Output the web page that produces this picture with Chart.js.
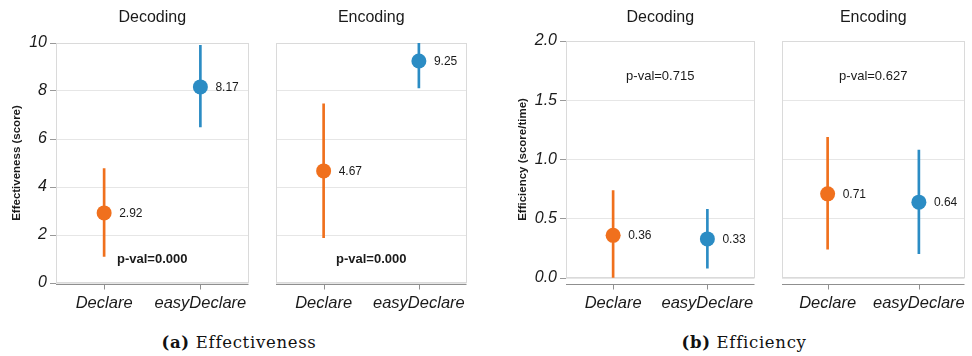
<!DOCTYPE html>
<html>
<head>
<meta charset="utf-8">
<script src="https://cdn.jsdelivr.net/npm/chart.js@4.4.1/dist/chart.umd.min.js"></script>
<style>
  html, body { margin: 0; padding: 0; background: #fff; }
  #wrap { position: relative; width: 972px; height: 356px; overflow: hidden; }
  .panel { position: absolute; top: 0; }
  .caption {
    position: absolute; top: 333px; transform: translateX(-50%);
    font-family: "DejaVu Serif", serif; font-size: 16.5px; letter-spacing: 0.7px;
    color: #111; white-space: nowrap;
  }
</style>
</head>
<body>
<div id="wrap">
  <div class="panel" style="left:0px"><canvas id="effDec" width="256" height="312"></canvas></div>
  <div class="panel" style="left:268px"><canvas id="effEnc" width="206" height="312"></canvas></div>
  <div class="panel" style="left:500px"><canvas id="efcDec" width="262" height="312"></canvas></div>
  <div class="panel" style="left:774px"><canvas id="efcEnc" width="198" height="312"></canvas></div>
  <div class="caption" style="left:239px"><b>(a)</b> Effectiveness</div>
  <div class="caption" style="left:744px"><b>(b)</b> Efficiency</div>
</div>
<script>
// Groups compared in every panel
const groups = ['Declare', 'easyDeclare'];
const groupColors = ['#f0701d', '#2b8cc4'];

// Effectiveness (score): means and confidence-interval ends
const effDecodingMean = [2.92, 8.17];
const effDecodingLow  = [1.11, 6.50];
const effDecodingHigh = [4.77, 9.90];
const effEncodingMean = [4.67, 9.25];
const effEncodingLow  = [1.89, 8.13];
const effEncodingHigh = [7.47, 10.0];

// Efficiency (score/time): means and confidence-interval ends
const efcDecodingMean = [0.36, 0.33];
const efcDecodingLow  = [0.00, 0.084];
const efcDecodingHigh = [0.737, 0.58];
const efcEncodingMean = [0.71, 0.64];
const efcEncodingLow  = [0.244, 0.205];
const efcEncodingHigh = [1.187, 1.08];

// Significance test results per panel
const pValues = ['0.000', '0.000', '0.715', '0.627'];

// Y-axis tick values
const effTicks = [0, 2, 4, 6, 8, 10];
const efcTicks = [0, 0.5, 1.0, 1.5, 2.0];

const SANS = '"Liberation Sans", Arial, sans-serif';

// Frame, bottom axis line with category ticks, panel title and p-value note
const panelDecor = {
  id: 'panelDecor',
  beforeDatasetsDraw(chart, args, o) {
    const { ctx, chartArea: a, scales } = chart;
    ctx.save();
    ctx.strokeStyle = '#dadada';
    ctx.lineWidth = 1;
    ctx.strokeRect(Math.round(a.left) + 0.5, Math.round(a.top) + 0.5,
                   Math.round(a.right - a.left) - 1, Math.round(a.bottom - a.top) - 1);
    const ay = Math.round(a.bottom + o.axisGap) + 0.5;
    ctx.strokeStyle = '#8f8f8f';
    ctx.beginPath();
    ctx.moveTo(a.left, ay);
    ctx.lineTo(a.right, ay);
    groups.forEach((g, i) => {
      const px = Math.round(scales.x.getPixelForValue(i)) + 0.5;
      ctx.moveTo(px, ay);
      ctx.lineTo(px, ay + 5);
    });
    ctx.stroke();
    ctx.restore();
  },
  afterDraw(chart, args, o) {
    const { ctx, chartArea: a, scales } = chart;
    const cx = (a.left + a.right) / 2;
    ctx.save();
    ctx.fillStyle = '#1a1a1a';
    ctx.textAlign = 'center';
    ctx.textBaseline = 'middle';
    ctx.font = '16px ' + SANS;
    ctx.fillText(o.title, cx, 17.5);
    ctx.font = (o.pBold ? 'bold ' : '') + '13px ' + SANS;
    ctx.fillText('p-val=' + o.pValue, cx, scales.y.getPixelForValue(o.pAt));
    ctx.restore();
  }
};

// Mean value printed to the right of each point
const meanLabels = {
  id: 'meanLabels',
  afterDatasetsDraw(chart) {
    const { ctx } = chart;
    const meta = chart.getDatasetMeta(0);
    const values = chart.data.datasets[0].data;
    ctx.save();
    ctx.fillStyle = '#1a1a1a';
    ctx.font = '12px ' + SANS;
    ctx.textAlign = 'left';
    ctx.textBaseline = 'middle';
    meta.data.forEach((pt, i) => ctx.fillText(values[i].toFixed(2), pt.x + 15, pt.y + 0.5));
    ctx.restore();
  }
};

function makePanel(id, p) {
  const ticks = p.ticks;
  return new Chart(document.getElementById(id), {
    type: 'bar',
    data: {
      labels: groups,
      datasets: [
        {
          type: 'line', data: p.mean, showLine: false,
          pointRadius: 7.5, pointHoverRadius: 7.5, pointBorderWidth: 0,
          pointBackgroundColor: groupColors, order: 0
        },
        {
          type: 'bar', data: p.low.map((l, i) => [l, p.high[i]]),
          backgroundColor: groupColors, barThickness: 2, order: 1
        }
      ]
    },
    options: {
      responsive: false,
      animation: false,
      events: [],
      layout: { padding: { left: p.padLeft, right: p.padRight, top: p.padTop, bottom: 0 } },
      plugins: {
        legend: { display: false },
        tooltip: { enabled: false },
        panelDecor: { title: p.title, pValue: p.pValue, pBold: p.pBold, pAt: p.pAt, axisGap: p.axisGap }
      },
      scales: {
        x: {
          grid: { display: false, drawTicks: false },
          border: { display: false },
          ticks: {
            color: '#1a1a1a', padding: p.xPad, maxRotation: 0, minRotation: 0, autoSkip: false,
            font: { family: SANS, size: 16.5, style: 'italic' }
          },
          afterFit(s) { s.height = p.xHeight; s.paddingLeft = 0; s.paddingRight = 0; }
        },
        y: {
          min: ticks[0], max: ticks[ticks.length - 1],
          afterBuildTicks(s) { s.ticks = ticks.map(v => ({ value: v })); },
          grid: { color: '#e6e6e6', tickColor: '#999', drawTicks: p.showY, tickLength: 6 },
          border: { display: false },
          ticks: {
            display: p.showY, color: '#1a1a1a', padding: 3,
            font: { family: SANS, size: 16, style: 'italic' },
            callback: v => p.decimals ? Number(v).toFixed(p.decimals) : String(v)
          },
          title: {
            display: p.showY, text: p.yTitle, color: '#1a1a1a',
            font: { family: SANS, size: 11.5, weight: 'bold' },
            padding: { top: p.yTitlePad, bottom: 0 }
          },
          afterFit(s) { s.width = p.yWidth; s.paddingTop = 0; s.paddingBottom = 0; }
        }
      }
    },
    plugins: [panelDecor, meanLabels]
  });
}

makePanel('effDec', {
  title: 'Decoding', mean: effDecodingMean, low: effDecodingLow, high: effDecodingHigh,
  ticks: effTicks, decimals: 0, pValue: pValues[0], pBold: true, pAt: 1.0,
  showY: true, yTitle: 'Effectiveness (score)', yTitlePad: 10, yWidth: 56,
  padLeft: 0, padRight: 7, padTop: 43, xHeight: 29, xPad: 11, axisGap: 1
});
makePanel('effEnc', {
  title: 'Encoding', mean: effEncodingMean, low: effEncodingLow, high: effEncodingHigh,
  ticks: effTicks, decimals: 0, pValue: pValues[1], pBold: true, pAt: 1.0,
  showY: false, yWidth: 0,
  padLeft: 8, padRight: 7, padTop: 43, xHeight: 29, xPad: 11, axisGap: 1
});
makePanel('efcDec', {
  title: 'Decoding', mean: efcDecodingMean, low: efcDecodingLow, high: efcDecodingHigh,
  ticks: efcTicks, decimals: 1, pValue: pValues[2], pBold: false, pAt: 1.7,
  showY: true, yTitle: 'Efficiency (score/time)', yTitlePad: 16.4, yWidth: 66,
  padLeft: 0, padRight: 5, padTop: 41, xHeight: 34, xPad: 16, axisGap: 6
});
makePanel('efcEnc', {
  title: 'Encoding', mean: efcEncodingMean, low: efcEncodingLow, high: efcEncodingHigh,
  ticks: efcTicks, decimals: 1, pValue: pValues[3], pBold: false, pAt: 1.7,
  showY: false, yWidth: 0,
  padLeft: 8, padRight: 1, padTop: 41, xHeight: 34, xPad: 16, axisGap: 6
});
</script>
</body>
</html>
